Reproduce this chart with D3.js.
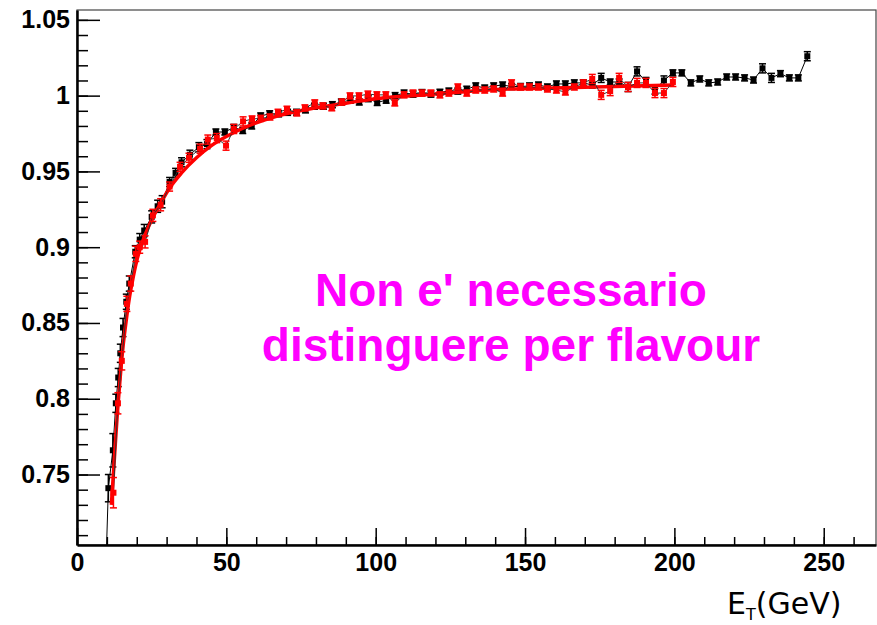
<!DOCTYPE html>
<html>
<head>
<meta charset="utf-8">
<script src="https://cdn.jsdelivr.net/npm/d3@7"></script>
<style>
  html, body { margin: 0; padding: 0; background: #fff; }
  svg { display: block; }
</style>
</head>
<body>
<svg id="chart" width="877" height="625"></svg>
<script>
// ---------- DATA ----------
// x-axis ticks and y-axis ticks
const xMajorTicks = [0, 50, 100, 150, 200, 250];
const xMinorTicks = d3.range(0, 261, 10);
const yMajorTicks = [0.75, 0.8, 0.85, 0.9, 0.95, 1, 1.05];
const yMinorTicks = d3.range(71, 106, 1).map(d => d / 100);

// Black series: [E_T, response, error]
const blackPoints = [
  [7.5, 0.55, 0], [10.5, 0.741, 0.009], [12, 0.766, 0.011], [13, 0.797, 0.006],
  [13.8, 0.814, 0.006], [14.5, 0.83, 0.006], [15.4, 0.847, 0.006], [16.5, 0.864, 0.005],
  [17.5, 0.876, 0.005], [19.5, 0.897, 0.004], [21, 0.905, 0.004], [22.5, 0.911, 0.004],
  [25, 0.92, 0.004], [27, 0.927, 0.004], [28.5, 0.93, 0.004], [31, 0.943, 0.003],
  [33, 0.949, 0.003], [35, 0.956, 0.003], [37.8, 0.961, 0.003], [40.8, 0.966, 0.003],
  [43.5, 0.968, 0.003], [46.5, 0.976, 0.002], [49.5, 0.976, 0.002], [52.5, 0.979, 0.002],
  [55.5, 0.977, 0.002], [58.5, 0.98, 0.002], [61.5, 0.9866, 0.002], [64.5, 0.988, 0.002],
  [67.5, 0.988, 0.002], [70.5, 0.989, 0.002], [73.5, 0.989, 0.002], [76.5, 0.9906, 0.002],
  [79.5, 0.993, 0.002], [82.5, 0.993, 0.002], [85.5, 0.994, 0.002], [88.5, 0.9958, 0.002],
  [91.5, 0.997, 0.002], [94.5, 0.9958, 0.002], [97.5, 0.998, 0.002], [100.5, 0.9955, 0.002],
  [103.5, 0.997, 0.002], [106.5, 1.0, 0.002], [109.5, 1.0017, 0.002], [112.5, 1.001, 0.002],
  [115.5, 1.002, 0.002], [118.5, 1.001, 0.002], [121.5, 1.0022, 0.002], [124.5, 1.003, 0.002],
  [127.5, 1.003, 0.002], [130.5, 1.0042, 0.002], [133.5, 1.0064, 0.002], [136.5, 1.005, 0.002],
  [139.5, 1.0064, 0.002], [142.5, 1.007, 0.002], [145.5, 1.006, 0.002], [148.5, 1.006, 0.002],
  [151.5, 1.0064, 0.002], [154.5, 1.007, 0.002], [157.5, 1.0057, 0.002], [160.5, 1.0077, 0.002],
  [163.5, 1.0077, 0.002], [166.5, 1.0084, 0.002], [169.5, 1.0084, 0.002], [172.5, 1.007, 0.002],
  [175.5, 1.0117, 0.003], [178.5, 1.009, 0.002], [181.5, 1.009, 0.002], [184.5, 1.0057, 0.003],
  [187.5, 1.016, 0.003], [190.5, 1.009, 0.003], [193.5, 1.004, 0.003], [196.5, 1.010, 0.003],
  [199.5, 1.015, 0.002], [202.5, 1.015, 0.002], [205.5, 1.0084, 0.002], [208.5, 1.011, 0.002],
  [211.5, 1.0084, 0.002], [214.5, 1.009, 0.002], [217.5, 1.0123, 0.002], [220.5, 1.0123, 0.002],
  [223.5, 1.0117, 0.002], [226.5, 1.0103, 0.002], [229.5, 1.018, 0.003], [232.5, 1.0117, 0.003],
  [235.5, 1.0145, 0.002], [238.5, 1.0117, 0.002], [241.5, 1.0117, 0.002], [244.5, 1.026, 0.003]
];

// Red series: [E_T, response, error]
const redPoints = [
  [12.2, 0.738, 0.01], [13.7, 0.797, 0.007], [15, 0.825, 0.006], [16.7, 0.8626, 0.005],
  [18, 0.876, 0.005], [19.7, 0.8956, 0.005], [21, 0.9, 0.004], [22.8, 0.9035, 0.004],
  [25.4, 0.921, 0.004], [28, 0.928, 0.004], [31, 0.94, 0.003], [34.5, 0.953, 0.003],
  [37.5, 0.959, 0.003], [41.2, 0.965, 0.003], [43.8, 0.971, 0.003], [46.8, 0.972, 0.003],
  [49.9, 0.967, 0.003], [52.5, 0.978, 0.003], [55.6, 0.983, 0.003], [58.6, 0.9846, 0.002],
  [61.5, 0.985, 0.002], [64.6, 0.9859, 0.002], [67.3, 0.989, 0.002], [70.3, 0.991, 0.002],
  [73.6, 0.9886, 0.002], [76.3, 0.9919, 0.002], [79.6, 0.9952, 0.002], [82.3, 0.9932, 0.002],
  [85.3, 0.992, 0.002], [88.7, 0.9958, 0.002], [91.4, 0.9998, 0.002], [94.4, 0.9998, 0.002],
  [97.4, 1.001, 0.002], [100.4, 1.0005, 0.002], [103.4, 1.0005, 0.002], [106.4, 0.9952, 0.002],
  [109.5, 1.0005, 0.002], [112.5, 1.0017, 0.002], [115.5, 1.0017, 0.002], [118.5, 1.0017, 0.002],
  [121.5, 1.0005, 0.002], [124.5, 1.0017, 0.002], [127.5, 1.0057, 0.002], [130.5, 1.0017, 0.002],
  [133.5, 1.0037, 0.002], [136.5, 1.0037, 0.002], [139.5, 1.0044, 0.002], [142.5, 1.0017, 0.002],
  [145.5, 1.0084, 0.002], [148.5, 1.0057, 0.002], [151.5, 1.0057, 0.002], [154.5, 1.0057, 0.002],
  [157.5, 1.0044, 0.002], [160.5, 1.0037, 0.002], [163.5, 1.0024, 0.002], [166.5, 1.0057, 0.002],
  [169.5, 1.0084, 0.002], [172.5, 1.011, 0.003], [175.5, 1.0005, 0.003], [178.5, 1.003, 0.003],
  [181.5, 1.0117, 0.003], [184.5, 1.0057, 0.003], [187.5, 1.0084, 0.003], [190.5, 1.0084, 0.003],
  [193.5, 1.0017, 0.003], [196.5, 1.0017, 0.003], [199.5, 1.009, 0.003]
];

// Red fit curve: [E_T, response]
const fitPoints = [
  [11.5, 0.73], [12.5, 0.76], [13.5, 0.79], [14.5, 0.815], [15.5, 0.836], [16.5, 0.852],
  [17.5, 0.866], [18.5, 0.877], [20, 0.891], [22, 0.904], [25, 0.918], [28, 0.929],
  [31, 0.939], [35, 0.949], [40, 0.959], [45, 0.967], [50, 0.973], [55, 0.978],
  [60, 0.982], [70, 0.988], [80, 0.992], [90, 0.995], [100, 0.998], [120, 1.001],
  [140, 1.004], [160, 1.005], [180, 1.006], [200, 1.007]
];

const noteLines = ["Non e' necessario", "distinguere per flavour"];

// ---------- LAYOUT ----------
const svg = d3.select("#chart");
const mLeft = 77, mRight = 876, mTop = 10, mBottom = 545;
const x = d3.scaleLinear().domain([0, 267.5]).range([mLeft, mRight]);
const y = d3.scaleLinear().domain([0.7035, 1.0565]).range([mBottom, mTop]);

svg.append("defs").append("clipPath").attr("id", "clip")
  .append("rect").attr("x", mLeft).attr("y", mTop)
  .attr("width", mRight - mLeft).attr("height", mBottom - mTop);

// frame
svg.append("rect").attr("x", mLeft).attr("y", mTop)
  .attr("width", mRight - mLeft).attr("height", mBottom - mTop)
  .attr("fill", "none").attr("stroke", "#444").attr("stroke-width", 1.2);

const labelFont = "'Liberation Sans Narrow', 'Liberation Sans', Arial, sans-serif";

// y axis minor
svg.append("g").attr("transform", `translate(${mLeft},0)`)
  .call(d3.axisLeft(y).tickValues(yMinorTicks).tickSize(-11).tickFormat("").tickSizeOuter(0))
  .call(g => g.select(".domain").remove())
  .selectAll("line").attr("stroke", "#000").attr("stroke-width", 1.5);
// y axis major
const yAxG = svg.append("g").attr("transform", `translate(${mLeft},0)`)
  .call(d3.axisLeft(y).tickValues(yMajorTicks).tickSize(-23).tickPadding(7)
    .tickFormat(d3.format("~g")).tickSizeOuter(0));
yAxG.select(".domain").attr("stroke", "#000").attr("stroke-width", 2.5);
yAxG.selectAll("line").attr("stroke", "#000").attr("stroke-width", 1.5);
yAxG.selectAll("text").attr("font-family", labelFont).attr("font-weight", "bold")
  .attr("font-size", 25).attr("fill", "#000");

// x axis minor
svg.append("g").attr("transform", `translate(0,${mBottom})`)
  .call(d3.axisBottom(x).tickValues(xMinorTicks).tickSize(-8).tickFormat("").tickSizeOuter(0))
  .call(g => g.select(".domain").remove())
  .selectAll("line").attr("stroke", "#000").attr("stroke-width", 1.5);
// x axis major
const xAxG = svg.append("g").attr("transform", `translate(0,${mBottom})`)
  .call(d3.axisBottom(x).tickValues(xMajorTicks).tickSize(-17).tickPadding(8)
    .tickFormat(d3.format("d")).tickSizeOuter(0));
xAxG.select(".domain").attr("stroke", "#000").attr("stroke-width", 2.5);
xAxG.selectAll("line").attr("stroke", "#000").attr("stroke-width", 1.5);
xAxG.selectAll("text").attr("font-family", labelFont).attr("font-weight", "bold")
  .attr("font-size", 25).attr("fill", "#000");

// ---------- DATA DRAWING ----------
const plot = svg.append("g").attr("clip-path", "url(#clip)");

function drawSeries(pts, color, lineColor, size) {
  const g = plot.append("g");
  g.append("path").datum(pts)
    .attr("d", d3.line().x(d => x(d[0])).y(d => y(d[1])))
    .attr("fill", "none").attr("stroke", lineColor).attr("stroke-width", 1);
  const eb = g.append("g").selectAll("g").data(pts.filter(d => d[2] > 0)).join("g");
  eb.append("line")
    .attr("x1", d => x(d[0])).attr("x2", d => x(d[0]))
    .attr("y1", d => y(d[1] - d[2])).attr("y2", d => y(d[1] + d[2]))
    .attr("stroke", color).attr("stroke-width", 1.5);
  eb.append("line")
    .attr("x1", d => x(d[0]) - 3.5).attr("x2", d => x(d[0]) + 3.5)
    .attr("y1", d => y(d[1] - d[2])).attr("y2", d => y(d[1] - d[2]))
    .attr("stroke", color).attr("stroke-width", 1.5);
  eb.append("line")
    .attr("x1", d => x(d[0]) - 3.5).attr("x2", d => x(d[0]) + 3.5)
    .attr("y1", d => y(d[1] + d[2])).attr("y2", d => y(d[1] + d[2]))
    .attr("stroke", color).attr("stroke-width", 1.5);
  g.append("g").selectAll("rect").data(pts).join("rect")
    .attr("x", d => x(d[0]) - size / 2).attr("y", d => y(d[1]) - size / 2)
    .attr("width", size).attr("height", size).attr("fill", color);
}

drawSeries(blackPoints, "#000", "#000", 6);

plot.append("path").datum(fitPoints)
  .attr("d", d3.line().curve(d3.curveMonotoneX).x(d => x(d[0])).y(d => y(d[1])))
  .attr("fill", "none").attr("stroke", "#ff0000").attr("stroke-width", 3.5);

drawSeries(redPoints, "#ff0000", "#333", 6);

// ---------- TEXT ----------
svg.append("g").selectAll("text").data(noteLines).join("text")
  .attr("x", 511).attr("y", (d, i) => 306 + i * 55)
  .attr("text-anchor", "middle")
  .attr("font-family", "'Liberation Sans', Arial, sans-serif")
  .attr("font-weight", "bold").attr("font-size", 46)
  .attr("fill", "#ff00ff").text(d => d);

const xl = svg.append("text").attr("x", 727).attr("y", 614)
  .attr("font-family", "'DejaVu Sans', sans-serif").attr("font-size", 30).attr("fill", "#000");
xl.append("tspan").text("E");
xl.append("tspan").attr("font-size", 16).attr("dy", 6).text("T");
xl.append("tspan").attr("dy", -6).text("(GeV)");
</script>
</body>
</html>
